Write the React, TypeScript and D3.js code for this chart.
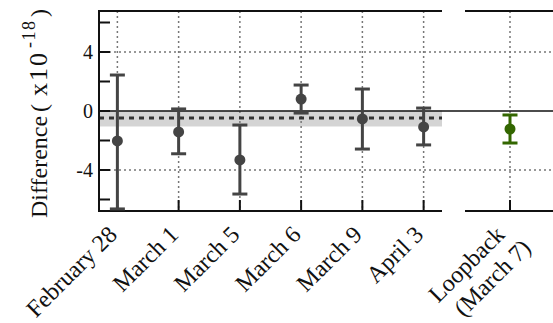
import * as d3 from "d3"

/* ----------------------- data ------------------------- */

const dates = ["February 28", "March 1", "March 5", "March 6", "March 9", "April 3"]
const diffs = [-2.03, -1.42, -3.32, 0.81, -0.54, -1.08]
const upper = [2.44, 0.14, -0.95, 1.76, 1.49, 0.2]
const lower = [-6.64, -2.9, -5.63, -0.14, -2.58, -2.3]

const loopLabel = ["Loopback", "(March 7)"]
const loopDiff = -1.22
const loopUpper = -0.27
const loopLower = -2.17

const meanDiff = -0.47
const meanBand = [-1.05, 0.03]

const yTicks = [-4, 0, 4]
const yMinorTicks = [-6, -2, 2, 6]
const yGrid = [-4, 4]

/* ----------------------- chart ------------------------- */

const font = "Liberation Serif"
const grey = "#444"
const green = "#336600"

export default function App() {
  const width = 553
  const height = 323
  const top = 11
  const bottom = 211
  const left = 99
  const leftEnd = 442
  const rightStart = 465
  const rightEnd = 560

  const y = d3.scaleLinear().domain([-6.78, 6.78]).range([bottom, top])
  const x = d3.scalePoint<string>().domain(dates).range([left, leftEnd]).padding(0.3)
  const x2 = d3.scalePoint<string>().domain(["loop"]).range([rightStart, rightEnd - 5]).padding(0.5)

  const capW = 7.5
  const points = dates.map((d, i) => ({ x: x(d) as number, v: diffs[i], hi: upper[i], lo: lower[i] }))
  const lx = x2("loop") as number

  const ErrBar = ({ cx, v, hi, lo, color }: { cx: number; v: number; hi: number; lo: number; color: string }) => (
    <g stroke={color} strokeWidth={3} fill={color}>
      <line x1={cx} x2={cx} y1={y(hi)} y2={y(lo)} />
      <line x1={cx - capW} x2={cx + capW} y1={y(hi)} y2={y(hi)} />
      <line x1={cx - capW} x2={cx + capW} y1={y(lo)} y2={y(lo)} />
      <circle cx={cx} cy={y(v)} r={5.5} stroke="none" />
    </g>
  )

  const txt = { fontFamily: font, fill: "#111" }

  return (
    <svg width={width} height={height} style={{ position: "absolute", left: 0, top: 0 }}>
      {/* mean band */}
      <rect x={left} width={leftEnd - left} y={y(meanBand[1])} height={y(meanBand[0]) - y(meanBand[1])} fill="#d4d4d4" />

      {/* grid */}
      <g stroke="#777" strokeWidth={1.5} strokeDasharray="2,3">
        {yGrid.map(t => (
          <line key={t} x1={left} x2={width} y1={y(t)} y2={y(t)} />
        ))}
        {points.map(p => (
          <line key={p.x} x1={p.x} x2={p.x} y1={top} y2={bottom} />
        ))}
        <line x1={lx} x2={lx} y1={top} y2={bottom} />
      </g>

      {/* zero line */}
      <line x1={left} x2={width} y1={y(0)} y2={y(0)} stroke="#111" strokeWidth={1.5} />
      {/* mean line */}
      <line x1={left} x2={leftEnd} y1={y(meanDiff)} y2={y(meanDiff)} stroke="#333" strokeWidth={3} strokeDasharray="5,5" />

      {/* frame */}
      <g stroke="#111" strokeWidth={2}>
        <line x1={left} x2={leftEnd} y1={top} y2={top} />
        <line x1={left} x2={leftEnd} y1={bottom} y2={bottom} />
        <line x1={rightStart} x2={width} y1={top} y2={top} />
        <line x1={rightStart} x2={width} y1={bottom} y2={bottom} />
        <line x1={left} x2={left} y1={top - 1} y2={bottom + 1} />
        {yTicks.concat(yMinorTicks).map(t => (
          <line key={t} x1={left} x2={left + 11} y1={y(t)} y2={y(t)} />
        ))}
        {points.map(p => (
          <line key={p.x} x1={p.x} x2={p.x} y1={bottom} y2={bottom - 11} />
        ))}
        <line x1={lx} x2={lx} y1={bottom} y2={bottom - 11} />
      </g>

      {/* y tick labels */}
      {yTicks.map(t => (
        <text key={t} x={left - 6} y={y(t)} dy="0.35em" textAnchor="end" fontSize={20} style={txt}>
          {t}
        </text>
      ))}

      {/* y label */}
      <text transform={`translate(47, 218) rotate(-90)`} fontSize={24} style={txt}>
        <tspan x={0}>Difference</tspan>
        <tspan x={106}>(</tspan>
        <tspan x={122} fontSize={26} letterSpacing={2}>x10</tspan>
        <tspan x={170} fontSize={18} letterSpacing={1.5} dy={-12}>-18</tspan>
        <tspan x={201} dy={12}>)</tspan>
      </text>

      {/* error bars */}
      {points.map(p => (
        <ErrBar key={p.x} cx={p.x} v={p.v} hi={p.hi} lo={p.lo} color={grey} />
      ))}
      <ErrBar cx={lx} v={loopDiff} hi={loopUpper} lo={loopLower} color={green} />

      {/* x labels */}
      {points.map((p, i) => (
        <text key={p.x} transform={`translate(${p.x + 1}, 236) rotate(-45)`} textAnchor="end" fontSize={24} style={txt}>
          {dates[i]}
        </text>
      ))}
      <text transform={`translate(${lx - 4}, 236) rotate(-45)`} textAnchor="end" fontSize={24} style={txt}>
        <tspan x={0} dy={0}>{loopLabel[0]}</tspan>
        <tspan x={9} dy={28}>{loopLabel[1]}</tspan>
      </text>
    </svg>
  )
}
